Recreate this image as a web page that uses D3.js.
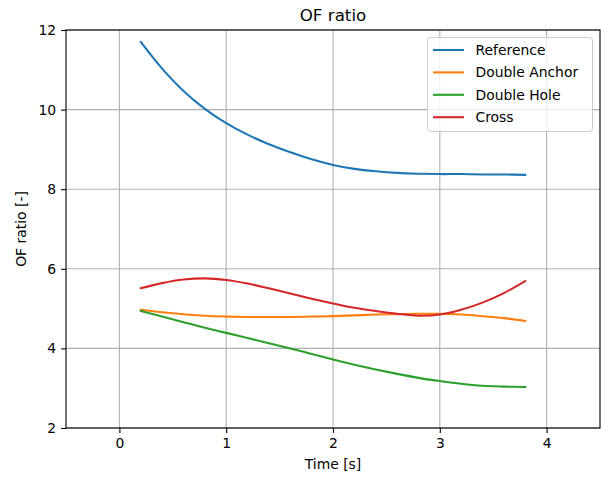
<!DOCTYPE html>
<html><head><meta charset="utf-8">
<script src="https://cdn.jsdelivr.net/npm/d3@7"></script>
<style>body{margin:0;background:#fff}</style>
</head><body>
<script>
const time = [0.2,0.4,0.6,0.8,1.0,1.2,1.4,1.6,1.8,2.0,2.2,2.4,2.6,2.8,3.0,3.2,3.4,3.6,3.8];
const reference = [11.70,11.03,10.47,10.02,9.66,9.37,9.13,8.93,8.75,8.61,8.51,8.45,8.41,8.39,8.38,8.38,8.37,8.37,8.36];
const doubleAnchor = [4.97,4.91,4.86,4.82,4.80,4.79,4.79,4.79,4.80,4.81,4.83,4.85,4.86,4.87,4.87,4.85,4.81,4.76,4.69];
const doubleHole = [4.94,4.80,4.66,4.52,4.39,4.26,4.13,4.00,3.86,3.72,3.59,3.47,3.36,3.26,3.18,3.11,3.06,3.04,3.03];
const cross = [5.51,5.64,5.73,5.76,5.72,5.63,5.51,5.38,5.25,5.13,5.02,4.94,4.87,4.82,4.85,4.97,5.15,5.39,5.69];
const seriesNames = ["Reference","Double Anchor","Double Hole","Cross"];
const colors = ["#1f77b4","#ff7f0e","#2ca02c","#d62728"];
const xTicks = [0,1,2,3,4];
const yTicks = [2,4,6,8,10,12];

const W=601,H=481, L=66, R=600, T=30, B=428;
const font = "DejaVu Sans, sans-serif";
const svg = d3.select("body").append("svg").attr("width",W).attr("height",H);
const x = d3.scaleLinear().domain([-0.5,4.5]).range([L,R]);
const y = d3.scaleLinear().domain([2,12]).range([B,T]);

// grid
svg.append("g").selectAll("line").data(xTicks).join("line")
  .attr("x1",d=>x(d)).attr("x2",d=>x(d)).attr("y1",T).attr("y2",B)
  .attr("stroke","#b0b0b0").attr("stroke-width",1.1);
svg.append("g").selectAll("line").data(yTicks).join("line")
  .attr("x1",L).attr("x2",R).attr("y1",d=>y(d)).attr("y2",d=>y(d))
  .attr("stroke","#b0b0b0").attr("stroke-width",1.1);

// lines
const data = [reference,doubleAnchor,doubleHole,cross];
const line = d3.line().x((d,i)=>x(time[i])).y(d=>y(d)).curve(d3.curveCatmullRom.alpha(0.5));
data.forEach((s,k)=>{
  svg.append("path").attr("d",line(s)).attr("fill","none")
    .attr("stroke",colors[k]).attr("stroke-width",2.08).attr("stroke-linecap","square");
});

// axes
const xAxis = d3.axisBottom(x).tickValues(xTicks).tickFormat(d3.format("d")).tickSize(4.9).tickPadding(4.9);
const yAxis = d3.axisLeft(y).tickValues(yTicks).tickFormat(d3.format("d")).tickSize(4.9).tickPadding(4.9);
const gx = svg.append("g").attr("transform",`translate(0,${B})`).call(xAxis);
const gy = svg.append("g").attr("transform",`translate(${L},0)`).call(yAxis);
[gx,gy].forEach(g=>{
  g.select(".domain").remove();
  g.selectAll("line").attr("stroke","#000").attr("stroke-width",1.1);
  g.selectAll("text").attr("font-family",font).attr("font-size","13.9px").attr("fill","#000");
});
svg.append("rect").attr("x",L).attr("y",T).attr("width",R-L).attr("height",B-T)
  .attr("fill","none").attr("stroke","#000").attr("stroke-width",1.1);

// labels
svg.append("text").attr("x",(L+R)/2).attr("y",21).attr("text-anchor","middle")
  .attr("font-family",font).attr("font-size","16.7px").text("OF ratio");
svg.append("text").attr("x",(L+R)/2).attr("y",469).attr("text-anchor","middle")
  .attr("font-family",font).attr("font-size","13.9px").text("Time [s]");
svg.append("text").attr("transform",`translate(26,${(T+B)/2}) rotate(-90)`).attr("text-anchor","middle")
  .attr("font-family",font).attr("font-size","13.9px").text("OF ratio [-]");

// legend
const lg = svg.append("g");
lg.append("rect").attr("x",427.5).attr("y",37.5).attr("width",165).attr("height",94).attr("rx",3)
  .attr("fill","#fff").attr("fill-opacity",0.8).attr("stroke","#cccccc").attr("stroke-width",1);
seriesNames.forEach((n,k)=>{
  const yy = 50 + k*22.4;
  lg.append("line").attr("x1",433).attr("x2",464).attr("y1",yy).attr("y2",yy)
    .attr("stroke",colors[k]).attr("stroke-width",2.08);
  lg.append("text").attr("x",475.5).attr("y",yy+5).attr("font-family",font).attr("font-size","13.9px").text(n);
});
</script>
</body></html>
